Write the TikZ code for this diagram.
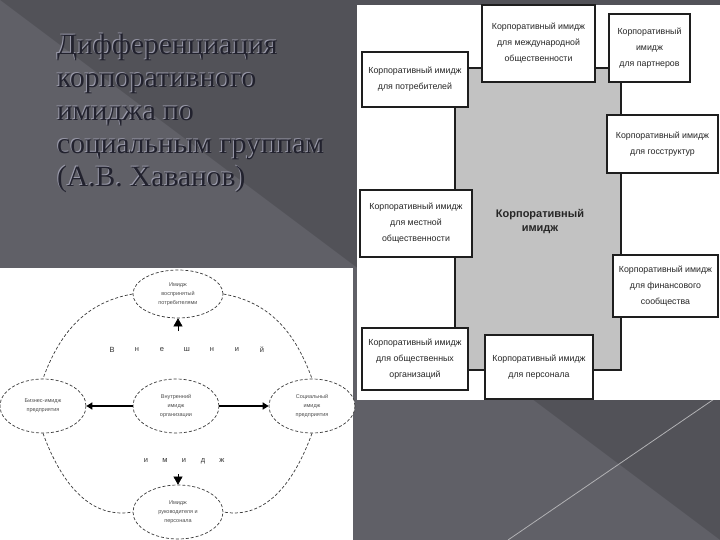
\documentclass[tikz,border=0pt]{standalone}
\usepackage{fontspec}
\setmainfont{Liberation Serif}
\newfontfamily\boxfont{Liberation Sans}
\usetikzlibrary{shapes.geometric,arrows.meta}
\definecolor{bgmain}{HTML}{525258}
\definecolor{bglight}{HTML}{606067}
\definecolor{titledark}{HTML}{22222E}
\definecolor{titlelight}{HTML}{9A9AAA}
\definecolor{coregray}{HTML}{C2C2C2}
\definecolor{boxline}{HTML}{1E1E1E}
\definecolor{ellline}{HTML}{3A3A3A}
\tikzset{
  titletext/.style={anchor=north west,inner sep=0pt,align=left,font=\fontsize{29.5}{33}\selectfont},
  imgbox/.style={draw=boxline,line width=1.3pt,fill=white,rectangle,align=center,inner sep=2pt,
     font=\boxfont\fontsize{8.8}{16}\selectfont,text=black!85},
  corebox/.style={draw=boxline,line width=1.3pt,fill=coregray,rectangle,inner sep=0pt},
  oval/.style={ellipse,draw=ellline,dashed,dash pattern=on 3pt off 2pt,line width=0.7pt,fill=white,
     align=center,inner sep=0pt,font=\boxfont\fontsize{5.5}{9}\selectfont,text=black!70},
  dashline/.style={draw=ellline,dash pattern=on 3pt off 2pt,line width=0.7pt},
  thickarrow/.style={draw=black,line width=1.6pt,-{Triangle[length=6pt,width=7pt]}},
  tiparrow/.style={draw=black,line width=0.6pt,-{Triangle[length=8pt,width=9pt]}},
  spaced/.style={inner sep=0pt,font=\boxfont\fontsize{7.5}{9}\selectfont,text=black!80}
}
\begin{document}
\begin{tikzpicture}[x=1pt,y=1pt]
\useasboundingbox (0,0) rectangle (720,-540);
% background
\fill[bgmain] (0,0) rectangle (720,-540);
\fill[bglight] (0,0) -- (720,-540) -- (0,-540) -- cycle;
\draw[white!55!bgmain,line width=0.8pt] (508,-540) -- (720,-395);
% title
\node[titletext,text=titlelight] (titleshadow) at (56,-33) {Дифференциация\\корпоративного\\имиджа по\\социальным группам\\(А.В. Хаванов)};
\node[titletext,text=titledark] (title) at (57,-34) {Дифференциация\\корпоративного\\имиджа по\\социальным группам\\(А.В. Хаванов)};
% right panel
\fill[white] (357,-5) rectangle (720,-400);
\node[corebox,minimum width=166pt,minimum height=302pt] (core) at (538,-219) {};
\node[font=\boxfont\bfseries\fontsize{11}{14}\selectfont,align=center,text=black!85] (coretext) at (540,-222) {Корпоративный\\имидж};
\node[imgbox,minimum width=106pt,minimum height=55pt] (potr) at (415,-79.5) {Корпоративный имидж\\для потребителей};
\node[imgbox,minimum width=113pt,minimum height=77pt] (intl) at (538.5,-43.5) {Корпоративный имидж\\для международной\\общественности};
\node[imgbox,minimum width=81pt,minimum height=68pt] (partn) at (649.5,-48) {Корпоративный\\имидж\\для партнеров};
\node[imgbox,minimum width=111pt,minimum height=58pt] (gos) at (662.5,-144) {Корпоративный имидж\\для госструктур};
\node[imgbox,minimum width=112pt,minimum height=67pt] (mest) at (416,-223.5) {Корпоративный имидж\\для местной\\общественности};
\node[imgbox,minimum width=105pt,minimum height=62pt] (fin) at (665.5,-286) {Корпоративный имидж\\для финансового\\сообщества};
\node[imgbox,minimum width=106pt,minimum height=62pt] (org) at (415,-359) {Корпоративный имидж\\для общественных\\организаций};
\node[imgbox,minimum width=108pt,minimum height=64pt] (pers) at (539,-367) {Корпоративный имидж\\для персонала};
% left-bottom panel
\fill[white] (0,-268) rectangle (353,-540);
\node[oval,minimum width=90pt,minimum height=48pt] (etop) at (178,-294) {Имидж\\воспринятый\\потребителями};
\node[oval,minimum width=86pt,minimum height=54pt] (eleft) at (43,-406) {Бизнес-имидж\\предприятия};
\node[oval,minimum width=86pt,minimum height=54pt] (ecen) at (176,-406) {Внутренний\\имидж\\организации};
\node[oval,minimum width=86pt,minimum height=54pt] (eright) at (312,-406) {Социальный\\имидж\\предприятия};
\node[oval,minimum width=90pt,minimum height=54pt] (ebot) at (178,-512) {Имидж\\руководителя и\\персонала};
\draw[dashline] (etop.west) to[out=190,in=70] (eleft.north);
\draw[dashline] (etop.east) to[out=-10,in=110] (eright.north);
\draw[dashline] (eleft.south) to[out=-70,in=190] (ebot.west);
\draw[dashline] (eright.south) to[out=-110,in=-10] (ebot.east);
\draw[thickarrow] (ecen.west) -- (eleft.east);
\draw[thickarrow] (ecen.east) -- (eright.west);
\coordinate (uptail) at (178,-331);
\coordinate (downtail) at (178,-474);
\draw[tiparrow] (uptail) -- (etop.south);
\draw[tiparrow] (downtail) -- (ebot.north);
\foreach \ch [count=\i] in {В,н,е,ш,н,и,й} {
  \node[spaced] (vn\i) at ({87+25*\i},-350) {\ch};
}
\foreach \ch [count=\i] in {и,м,и,д,ж} {
  \node[spaced] (im\i) at ({127+19*\i},-461) {\ch};
}
\end{tikzpicture}
\end{document}
